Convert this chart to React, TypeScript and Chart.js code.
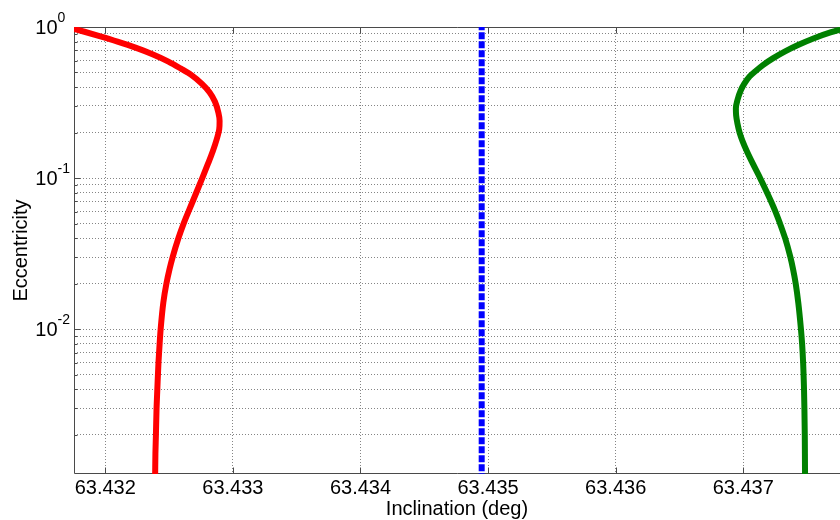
import React, { useEffect, useRef } from "react";
import { Chart, registerables } from "chart.js";

Chart.register(...registerables);

// Orbit families: inclination (deg) against eccentricity
const redEcc = [1, 0.93, 0.87, 0.8, 0.73, 0.66, 0.59, 0.53, 0.48, 0.42, 0.37, 0.32, 0.27, 0.24, 0.21, 0.18, 0.15, 0.125, 0.1, 0.085, 0.07, 0.06, 0.05, 0.04, 0.03, 0.025, 0.02, 0.015, 0.01, 0.008, 0.006, 0.004, 0.003, 0.002, 0.0015, 0.0011];
const redInc = [63.4317, 63.431837, 63.431955, 63.432096, 63.432237, 63.43237, 63.432495, 63.432593, 63.432676, 63.432758, 63.432817, 63.43286, 63.432887, 63.432896, 63.432893, 63.432873, 63.432842, 63.432806, 63.43276, 63.432726, 63.432685, 63.432652, 63.432614, 63.432573, 63.432528, 63.432504, 63.432479, 63.432455, 63.432434, 63.432426, 63.432417, 63.432408, 63.432402, 63.432397, 63.432393, 63.432391];

const greenEcc = [1, 0.92, 0.84, 0.76, 0.69, 0.62, 0.56, 0.51, 0.47, 0.42, 0.38, 0.33, 0.29, 0.26, 0.23, 0.2, 0.175, 0.15, 0.125, 0.1, 0.085, 0.07, 0.06, 0.05, 0.04, 0.03, 0.025, 0.02, 0.015, 0.01, 0.008, 0.006, 0.004, 0.003, 0.002, 0.0015, 0.0011];
const greenInc = [63.437828, 63.437683, 63.43755, 63.437429, 63.437328, 63.437232, 63.437154, 63.437095, 63.437049, 63.437007, 63.43698, 63.436955, 63.436942, 63.436944, 63.436954, 63.436971, 63.436995, 63.437029, 63.437074, 63.437132, 63.437172, 63.437218, 63.437252, 63.437288, 63.437328, 63.437369, 63.43739, 63.437411, 63.437431, 63.437452, 63.437461, 63.437469, 63.437476, 63.437479, 63.437482, 63.437483, 63.437484];

// Critical inclination reference line
const blueInc = 63.43495;
const blueEcc = [0.001, 1];

// Axes
const xTicks = [63.432, 63.433, 63.434, 63.435, 63.436, 63.437];
const xMin = 63.431755;
const xMax = 63.437758;
const yMin = 0.0011;
const yMax = 1;
const yLabelDecades = [1, 0.1, 0.01];
const yGridDecades = [0.001, 0.01, 0.1];
const yGridMultiples = [1, 2, 3, 4, 5, 6, 7, 8, 9];

const FONT = '"Liberation Sans", Arial, Helvetica, sans-serif';
const AXIS_COLOR = "#4a4a4a";
const GRID_COLOR = "#858585";

const yTickValues: number[] = [];
yGridDecades.forEach((d) => {
  yGridMultiples.forEach((m) => {
    const v = +(m * d).toPrecision(3);
    if (v >= yMin && v <= yMax) yTickValues.push(v);
  });
});
yTickValues.push(yMax);

const toPoints = (xs: number[], ys: number[]) => xs.map((x, i) => ({ x, y: ys[i] }));

const framePlugin = {
  id: "axisFrame",
  beforeDatasetsDraw(chart: any) {
    const { ctx, chartArea } = chart;
    const { left, right, top, bottom } = chartArea;
    const xs = chart.scales.x;
    const ys = chart.scales.y;
    ctx.save();
    ctx.strokeStyle = AXIS_COLOR;
    ctx.lineWidth = 1;
    ctx.setLineDash([]);
    ctx.beginPath();
    const l = Math.round(left) + 0.5;
    const t = Math.round(top) + 0.5;
    const b = Math.round(bottom) - 0.5;
    ctx.moveTo(l, b);
    ctx.lineTo(l, t);
    ctx.lineTo(right + 2, t);
    ctx.moveTo(l, b);
    ctx.lineTo(right + 2, b);
    xTicks.forEach((v) => {
      const px = Math.round(xs.getPixelForValue(v)) + 0.5;
      ctx.moveTo(px, b);
      ctx.lineTo(px, b - 6);
      ctx.moveTo(px, t);
      ctx.lineTo(px, t + 6);
    });
    yTickValues.forEach((v) => {
      const py = Math.round(ys.getPixelForValue(v)) + 0.5;
      const major = yLabelDecades.includes(v);
      ctx.moveTo(l, py);
      ctx.lineTo(l + (major ? 6 : 3), py);
    });
    ctx.stroke();
    ctx.restore();
  },
  afterDraw(chart: any) {
    const { ctx } = chart;
    const ys = chart.scales.y;
    ctx.save();
    ctx.fillStyle = "#000";
    yLabelDecades.forEach((v) => {
      const py = ys.getPixelForValue(v);
      const exp = String(Math.round(Math.log10(v)));
      const split = 57.5;
      ctx.font = `20px ${FONT}`;
      ctx.textAlign = "right";
      ctx.textBaseline = "alphabetic";
      ctx.fillText("10", split, py + 7);
      ctx.font = `14px ${FONT}`;
      ctx.textAlign = "left";
      ctx.fillText(exp, split, py - 5);
    });
    ctx.restore();
  },
};

export default function App() {
  const canvasRef = useRef<HTMLCanvasElement | null>(null);

  useEffect(() => {
    if (!canvasRef.current) return;
    const curve = {
      borderWidth: 6,
      pointRadius: 0,
      fill: false,
      cubicInterpolationMode: "monotone",
      borderJoinStyle: "round",
    };
    const chart = new Chart(canvasRef.current, {
      type: "line",
      data: {
        datasets: [
          {
            ...curve,
            data: toPoints(redInc, redEcc),
            borderColor: "#ff0000",
            backgroundColor: "#ff0000",
          },
          {
            data: toPoints(blueEcc.map(() => blueInc), blueEcc),
            borderColor: "#0000ff",
            backgroundColor: "#0000ff",
            borderWidth: 6,
            borderDash: [7, 2],
            borderCapStyle: "butt",
            pointRadius: 0,
            fill: false,
          },
          {
            ...curve,
            data: toPoints(greenInc, greenEcc),
            borderColor: "#008000",
            backgroundColor: "#008000",
          },
        ],
      },
      options: {
        indexAxis: "y",
        animation: false,
        responsive: false,
        devicePixelRatio: 1,
        layout: { padding: { top: 27, left: 0, right: 0, bottom: 0 } },
        plugins: {
          legend: { display: false },
          tooltip: { enabled: false },
        },
        scales: {
          x: {
            type: "linear",
            min: xMin,
            max: xMax,
            afterBuildTicks: (s: any) => {
              s.ticks = xTicks.map((value) => ({ value }));
            },
            afterFit: (s: any) => {
              s.height = 46;
            },
            grid: { color: GRID_COLOR, lineWidth: 1, drawTicks: false },
            border: { display: false, dash: [1, 2] },
            ticks: {
              autoSkip: false,
              maxRotation: 0,
              padding: 2,
              color: "#000",
              font: { family: FONT, size: 20 },
              callback: (v: any) => Number(v).toFixed(3),
            },
            title: {
              display: true,
              text: "Inclination (deg)",
              color: "#000",
              font: { family: FONT, size: 20 },
              padding: { top: 0, bottom: -1 },
            },
          },
          y: {
            type: "logarithmic",
            min: yMin,
            max: yMax,
            afterBuildTicks: (s: any) => {
              s.ticks = yTickValues.map((value) => ({ value }));
            },
            afterFit: (s: any) => {
              s.width = 74;
            },
            grid: { color: GRID_COLOR, lineWidth: 1, drawTicks: false },
            border: { display: false, dash: [1, 2] },
            ticks: {
              autoSkip: false,
              font: { family: FONT, size: 20 },
              callback: () => "",
            },
            title: {
              display: true,
              text: "Eccentricity",
              color: "#000",
              font: { family: FONT, size: 20 },
              padding: { top: 9, bottom: 0 },
            },
          },
        },
      },
      plugins: [framePlugin],
    } as any);
    return () => chart.destroy();
  }, []);

  return (
    <div style={{ position: "fixed", left: 0, top: 0, width: 840, height: 520, background: "#fff" }}>
      <canvas ref={canvasRef} width={840} height={520} style={{ display: "block" }} />
    </div>
  );
}
